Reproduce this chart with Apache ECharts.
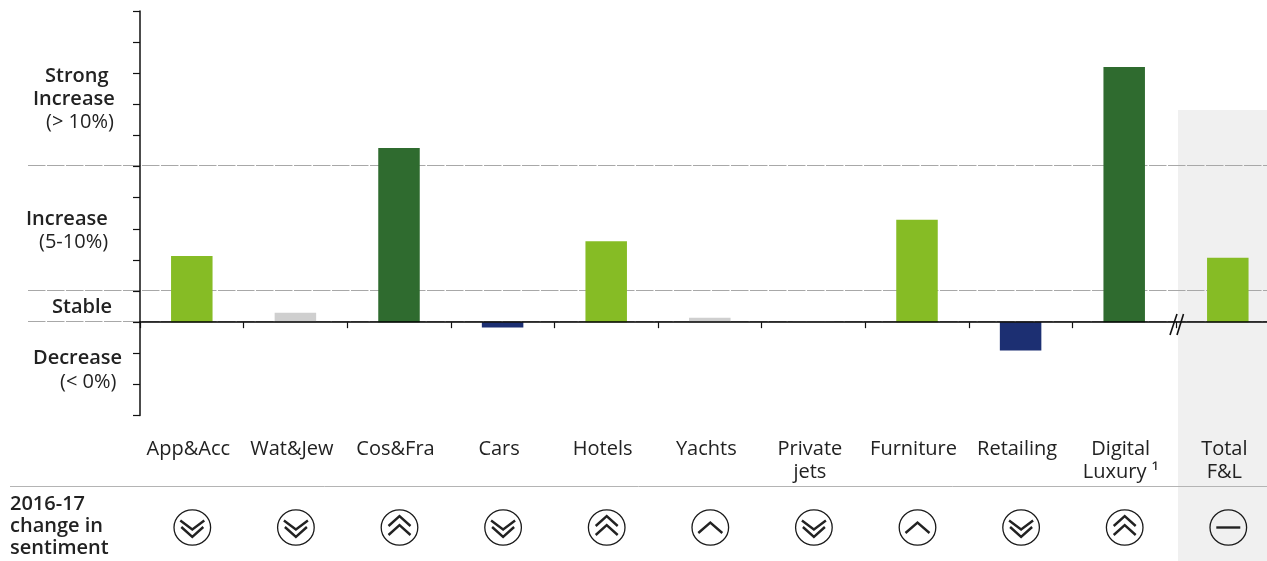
<!DOCTYPE html>
<html><head><meta charset="utf-8">
<style>html,body{margin:0;padding:0;background:#fff}#c{width:1267px;height:561px}</style>
<script src="https://cdn.jsdelivr.net/npm/echarts@6/dist/echarts.min.js"></script>
</head><body><div id="c"></div>
<script>
const categories = ['App&Acc','Wat&Jew','Cos&Fra','Cars','Hotels','Yachts','Private\njets','Furniture','Retailing','Digital\nLuxury ¹','Total\nF&L'];
const values = [2.13,0.3,5.6,-0.17,2.6,0.14,0.03,3.29,-0.91,8.2,2.07];
const groups = ['inc','stable','strong','dec','inc','stable','stable','inc','dec','strong','inc'];
const sentiment = ['down2','down2','up2','down2','up2','up1','down2','up1','down2','up2','flat'];
const guideValues = [5,1,0];
const groupColors = {strong:'#2f6b2f',inc:'#86bc25',stable:'#cfcfcf',dec:'#1c2f72'};
const bandLabels = [
 ['Strong',45,76,600],['Increase',33,99,600],['(> 10%)',46,122,400],
 ['Increase',26,219,600],['(5-10%)',39,242,400],
 ['Stable',52,307,600],
 ['Decrease',33,358,600],['(< 0%)',60,382,400]
];
const rowTitle = ['2016-17','change in','sentiment'];
const FONT = '"Open Sans"';
const TXT = '#222';
const chart = echarts.init(document.getElementById('c'),null,{renderer:'canvas'});

const shapes = {
 down2:[[[-12,-7],[0,2],[12,-7]],[[-11,-0.5],[0,9.5],[11,-0.5]]],
 up2:[[[-11,-1.5],[0,-11.5],[11,-1.5]],[[-11,7.5],[0,-2.5],[11,7.5]]],
 up1:[[[-12,5.5],[0,-5],[12,5.5]]],
 flat:[[[-12,0],[12,0]]]
};
const graphics = [
 {type:'rect',z:-10,silent:true,shape:{x:1178,y:110,width:89,height:451},style:{fill:'#f0f0f0'}},
 {type:'line',z:1,shape:{x1:10,y1:486.5,x2:1267,y2:486.5},style:{stroke:'#b4b4b4',lineWidth:1}},
 {type:'line',z:20,shape:{x1:1170,y1:335,x2:1177,y2:314},style:{stroke:'#111',lineWidth:1.6}},
 {type:'line',z:20,shape:{x1:1177,y1:335,x2:1183.5,y2:314},style:{stroke:'#111',lineWidth:1.6}}
];
bandLabels.forEach(b=>graphics.push({type:'text',z:20,style:{text:b[0],x:b[1],y:b[2],verticalAlign:'middle',fill:TXT,font:b[3]+' 20px '+FONT}}));
rowTitle.forEach((t,i)=>graphics.push({type:'text',z:20,style:{text:t,x:10,y:504+i*22,verticalAlign:'middle',fill:TXT,font:'600 20px '+FONT}}));

chart.setOption({
 animation:false,
 backgroundColor:'transparent',
 textStyle:{fontFamily:FONT},
 grid:{left:140,top:11,width:1139.6,height:404.5,containLabel:false,outerBoundsMode:'none'},
 xAxis:{type:'category',data:categories,z:4,
  axisLine:{lineStyle:{color:'#000',width:1.6}},
  axisTick:{show:true,length:6,lineStyle:{color:'#111',width:1.2}},
  axisLabel:{interval:0,margin:22,color:TXT,fontSize:20,lineHeight:23.5,fontFamily:FONT,hideOverlap:false,padding:[0,7,0,0]},
  splitLine:{show:false}},
 yAxis:{type:'value',min:-3,max:10,interval:1,z:4,
  axisLine:{show:true,onZero:false,lineStyle:{color:'#111',width:1.5}},
  axisTick:{show:true,length:7,lineStyle:{color:'#111',width:1.2}},
  axisLabel:{show:false},splitLine:{show:false}},
 graphic:graphics,
 series:[
  {type:'custom',z:1,silent:true,clip:false,data:guideValues.map(v=>[0,v]),
   renderItem:(p,api)=>{const y=Math.floor(api.coord([0,api.value(1)])[1])-.5;
    return {type:'line',shape:{x1:28,y1:y,x2:1267,y2:y},style:{stroke:'#a8a8a8',lineWidth:1,lineDash:[17.5,1.5]}};}},
  {type:'bar',z:3,barWidth:41.5,
   data:values.map((v,i)=>({value:v,itemStyle:{color:groupColors[groups[i]]}}))},
  {type:'custom',z:5,silent:true,clip:false,data:sentiment.map((s,i)=>[i,0]),
   renderItem:(p,api)=>{const i=api.value(0);const x=api.coord([i,0])[0]+.5;const y=527.5;
    const kids=[{type:'ellipse',shape:{cx:x,cy:y,rx:18.3,ry:17.6},style:{fill:'none',stroke:'#1a1a1a',lineWidth:1.3}}];
    shapes[sentiment[i]].forEach(pts=>kids.push({type:'polyline',
      shape:{points:pts.map(q=>[x+q[0],y+q[1]])},style:{fill:'none',stroke:'#222',lineWidth:2.4}}));
    return {type:'group',children:kids};}}
 ]
});
</script></body></html>
